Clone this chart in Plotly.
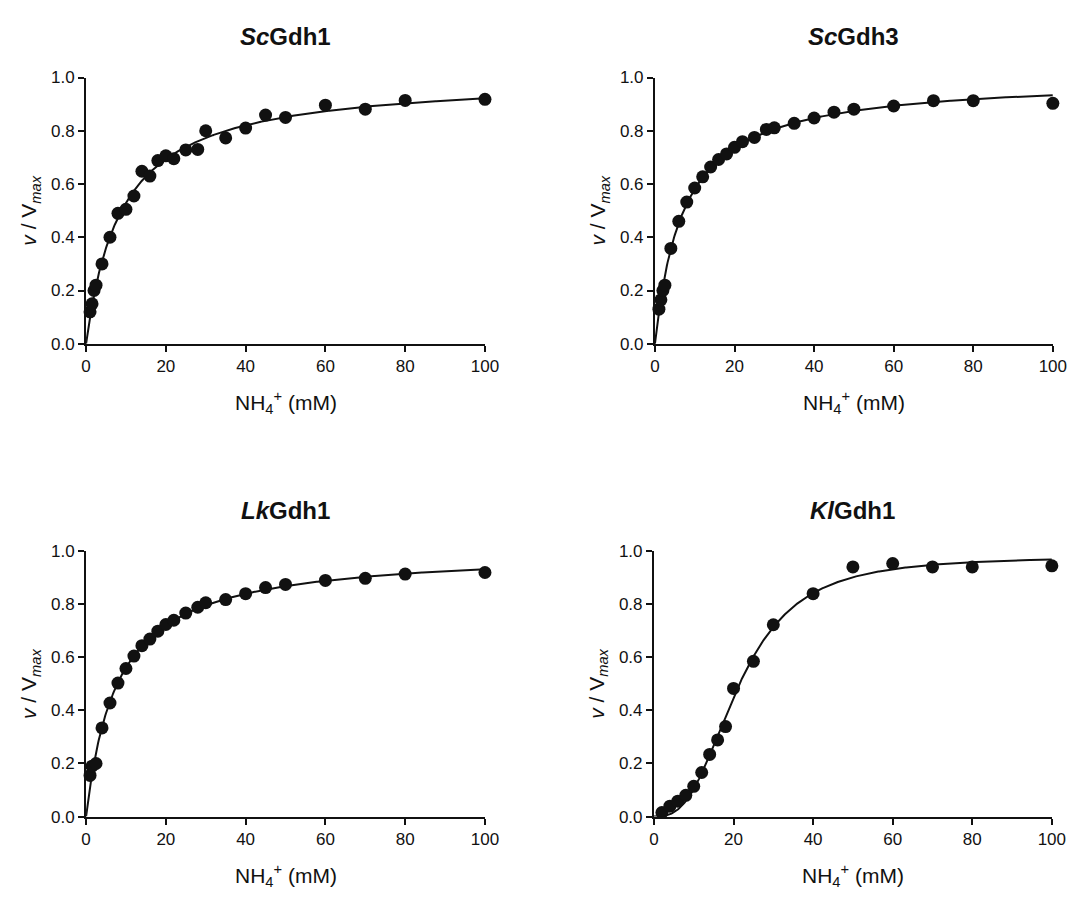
import numpy as np
import plotly.graph_objects as go

# ---- data: normalised rate v/Vmax versus ammonium concentration (mM) ----
panel_titles = ["<i>Sc</i>Gdh1", "<i>Sc</i>Gdh3", "<i>Lk</i>Gdh1", "<i>Kl</i>Gdh1"]

sc1_x = [1, 1.5, 2, 2.5, 4, 6, 8, 10, 12, 14, 16, 18, 20, 22, 25, 28, 30, 35, 40, 45, 50, 60, 70, 80, 100]
sc1_y = [0.12, 0.15, 0.20, 0.22, 0.30, 0.40, 0.49, 0.505, 0.555, 0.648, 0.63, 0.688, 0.706, 0.695, 0.728, 0.73,
         0.80, 0.773, 0.81, 0.859, 0.85, 0.896, 0.881, 0.914, 0.918]

sc3_x = [1, 1.5, 2, 2.5, 4, 6, 8, 10, 12, 14, 16, 18, 20, 22, 25, 28, 30, 35, 40, 45, 50, 60, 70, 80, 100]
sc3_y = [0.13, 0.165, 0.20, 0.22, 0.358, 0.46, 0.532, 0.585, 0.627, 0.664, 0.692, 0.713, 0.738, 0.759, 0.775,
         0.805, 0.811, 0.828, 0.848, 0.870, 0.881, 0.893, 0.913, 0.913, 0.903]

lk1_x = [1, 1.5, 2.5, 4, 6, 8, 10, 12, 14, 16, 18, 20, 22, 25, 28, 30, 35, 40, 45, 50, 60, 70, 80, 100]
lk1_y = [0.155, 0.19, 0.20, 0.334, 0.428, 0.503, 0.558, 0.605, 0.644, 0.669, 0.699, 0.724, 0.740, 0.767,
         0.789, 0.806, 0.818, 0.840, 0.863, 0.875, 0.890, 0.898, 0.914, 0.920]

kl1_x = [2, 4, 6, 8, 10, 12, 14, 16, 18, 20, 25, 30, 40, 50, 60, 70, 80, 100]
kl1_y = [0.015, 0.039, 0.058, 0.08, 0.114, 0.166, 0.234, 0.289, 0.339, 0.483, 0.585, 0.723, 0.84, 0.941,
         0.954, 0.941, 0.941, 0.945]

x_ticks = [0, 20, 40, 60, 80, 100]
y_ticks = [0.0, 0.2, 0.4, 0.6, 0.8, 1.0]


# ---- kinetic fits (least squares over a parameter grid) ----
def fit_michaelis_menten(x, y):
    x = np.asarray(x, float)
    y = np.asarray(y, float)
    km = np.linspace(0.5, 40, 3951)
    f = x[None, :] / (km[:, None] + x[None, :])
    vmax = (f * y).sum(1) / (f * f).sum(1)
    sse = ((vmax[:, None] * f - y) ** 2).sum(1)
    i = int(sse.argmin())
    return lambda s: vmax[i] * s / (km[i] + s)


def fit_hill(x, y):
    x = np.asarray(x, float)
    y = np.asarray(y, float)
    best = None
    for n in np.arange(1.0, 5.0, 0.01):
        k = np.linspace(10, 40, 601)
        f = x[None, :] ** n / (k[:, None] ** n + x[None, :] ** n)
        vmax = (f * y).sum(1) / (f * f).sum(1)
        sse = ((vmax[:, None] * f - y) ** 2).sum(1)
        i = int(sse.argmin())
        if best is None or sse[i] < best[0]:
            best = (sse[i], vmax[i], k[i], n)
    _, vm, kk, nn = best
    return lambda s: vm * s ** nn / (kk ** nn + s ** nn)


datasets = [
    (sc1_x, sc1_y, fit_michaelis_menten),
    (sc3_x, sc3_y, fit_michaelis_menten),
    (lk1_x, lk1_y, fit_michaelis_menten),
    (kl1_x, kl1_y, fit_hill),
]

# ---- layout geometry (pixels) ----
W, H = 1086, 898
boxes = [  # left, right, top, bottom
    (82.5, 488.5, 70, 342),
    (661.5, 1066.5, 70, 342),
    (82.5, 488.5, 554, 825),
    (660.5, 1065.5, 554, 825),
]

FONT = "Liberation Sans, Arial, Helvetica, sans-serif"
INK = "#111111"

fig = go.Figure()
annotations = []
layout_axes = {}

s_curve = np.linspace(0, 100, 501)

for idx, ((xs, ys, fitter), (l, r, t, b), title) in enumerate(zip(datasets, boxes, panel_titles), start=1):
    xa = "x" if idx == 1 else f"x{idx}"
    ya = "y" if idx == 1 else f"y{idx}"
    model = fitter(xs, ys)

    fig.add_trace(go.Scatter(
        x=s_curve, y=model(s_curve), mode="lines",
        line=dict(color=INK, width=2), xaxis=xa, yaxis=ya,
        showlegend=False, cliponaxis=False, hoverinfo="skip"))
    fig.add_trace(go.Scatter(
        x=xs, y=ys, mode="markers",
        marker=dict(color=INK, size=13, line=dict(width=0)),
        xaxis=xa, yaxis=ya, showlegend=False, cliponaxis=False))

    axis_common = dict(
        showline=True, linewidth=2, linecolor=INK, mirror=False,
        ticks="outside", ticklen=6, tickwidth=2, tickcolor=INK,
        showgrid=False, zeroline=False,
        tickfont=dict(family=FONT, size=17, color=INK),
        fixedrange=True,
    )
    layout_axes["xaxis" if idx == 1 else f"xaxis{idx}"] = dict(
        axis_common, domain=[l / W, r / W], anchor=ya, range=[0, 100],
        tickvals=x_ticks, ticktext=[str(v) for v in x_ticks])
    layout_axes["yaxis" if idx == 1 else f"yaxis{idx}"] = dict(
        axis_common, domain=[1 - b / H, 1 - t / H], anchor=xa, range=[0, 1.0],
        tickvals=y_ticks, ticktext=[f"{v:.1f}" for v in y_ticks])

    cx = (l + r) / 2
    cy = (t + b) / 2
    # panel title
    annotations.append(dict(
        text=f"<b>{title}</b>", x=cx / W, y=1 - (t - 42) / H, xref="paper", yref="paper",
        xanchor="center", yanchor="middle", showarrow=False,
        font=dict(family=FONT, size=24, color=INK)))
    # x-axis title
    annotations.append(dict(
        text="NH<sub>4</sub><sup>+</sup> (mM)", x=cx / W, y=1 - (b + 60) / H,
        xref="paper", yref="paper", xanchor="center", yanchor="middle", showarrow=False,
        font=dict(family=FONT, size=21, color=INK)))
    # y-axis title
    annotations.append(dict(
        text="<i>v</i> / V<sub><i>max</i></sub>", x=(l - 57) / W, y=1 - cy / H,
        xref="paper", yref="paper", xanchor="center", yanchor="middle", showarrow=False,
        textangle=-90, font=dict(family=FONT, size=21, color=INK)))

fig.update_layout(
    width=W, height=H,
    margin=dict(l=0, r=0, t=0, b=0),
    paper_bgcolor="white", plot_bgcolor="white",
    annotations=annotations,
    **layout_axes,
)

fig.write_html("out.html", config={"displayModeBar": False})
